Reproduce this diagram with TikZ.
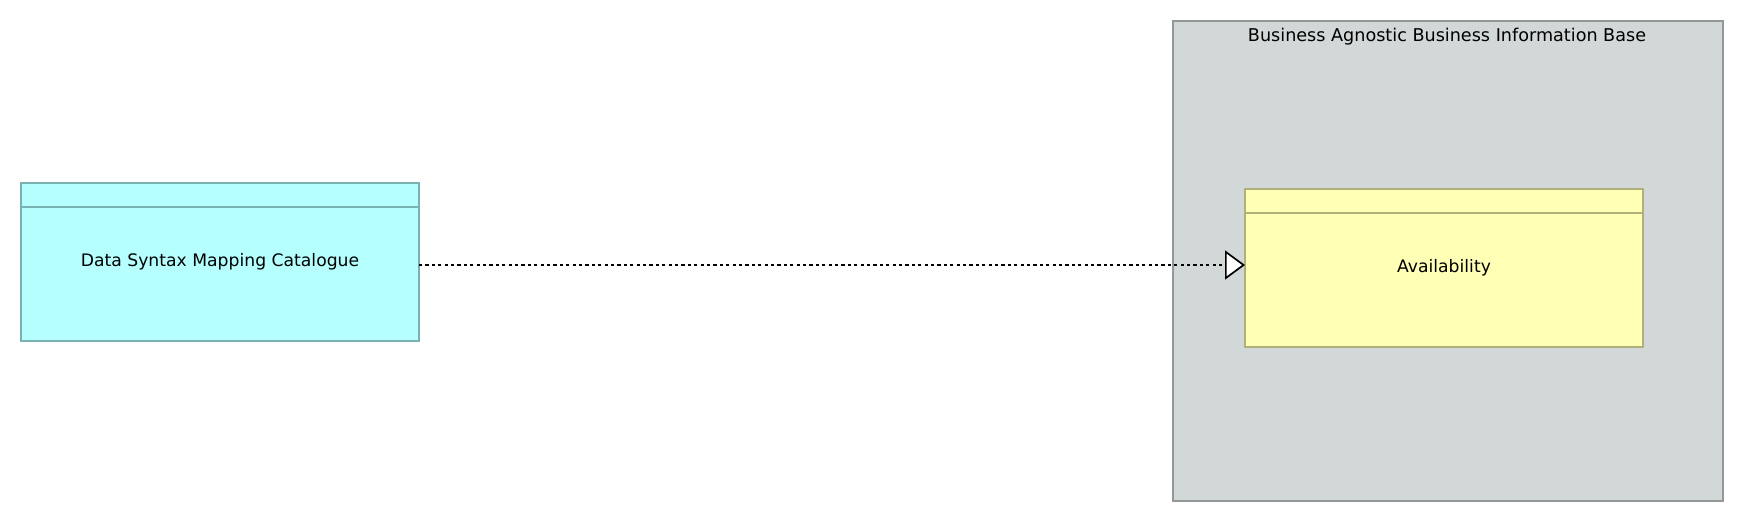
\documentclass[tikz,border=0pt]{standalone}
\usepackage{fontspec}
\setmainfont{DejaVu Sans}
\usetikzlibrary{arrows.meta,calc}
\definecolor{appfill}{RGB}{181,255,255}
\definecolor{appline}{RGB}{122,178,178}
\definecolor{busfill}{RGB}{255,255,181}
\definecolor{busline}{RGB}{176,176,122}
\definecolor{grpfill}{RGB}{210,215,215}
\definecolor{grpline}{RGB}{147,151,151}
\begin{document}
\begin{tikzpicture}[x=1pt,y=-1pt,
  every node/.style={font=\fontsize{17.2}{20}\selectfont, inner sep=0pt, outer sep=0pt},
  elem/.style={draw, line width=1.5pt, minimum width=398pt, minimum height=158pt},
  appelem/.style={elem, fill=appfill, draw=appline},
  buselem/.style={elem, fill=busfill, draw=busline},
  grpbox/.style={draw=grpline, fill=grpfill, line width=1.5pt, minimum width=550pt, minimum height=480pt},
  realize/.style={line width=1.5pt, dash pattern=on 3.2pt off 3.2pt, -{Triangle[length=20pt,width=29pt,fill=white,line width=1.7pt]}}
]
\useasboundingbox (0,0) rectangle (1744,522);
% container
\node[grpbox] (grp) at (1448,261) {};
\node[anchor=base, font=\fontsize{17.6}{20}\selectfont] (grptitle) at (1447,41.7) {Business Agnostic Business Information Base};
% elements
\node[appelem] (dsm) at (220,262) {\raisebox{-1pt}{Data Syntax Mapping Catalogue}};
\draw[appline, line width=1.5pt] ($(dsm.north west)+(0,24)$) -- ($(dsm.north east)+(0,24)$);
\node[buselem] (ava) at (1444,268) {\raisebox{-1pt}{Availability}};
\draw[busline, line width=1.5pt] ($(ava.north west)+(0,24)$) -- ($(ava.north east)+(0,24)$);
% connector
\draw[realize] ($(dsm.east)+(0,3)$) -- ($(ava.west)+(0,-3)$);
\end{tikzpicture}
\end{document}
